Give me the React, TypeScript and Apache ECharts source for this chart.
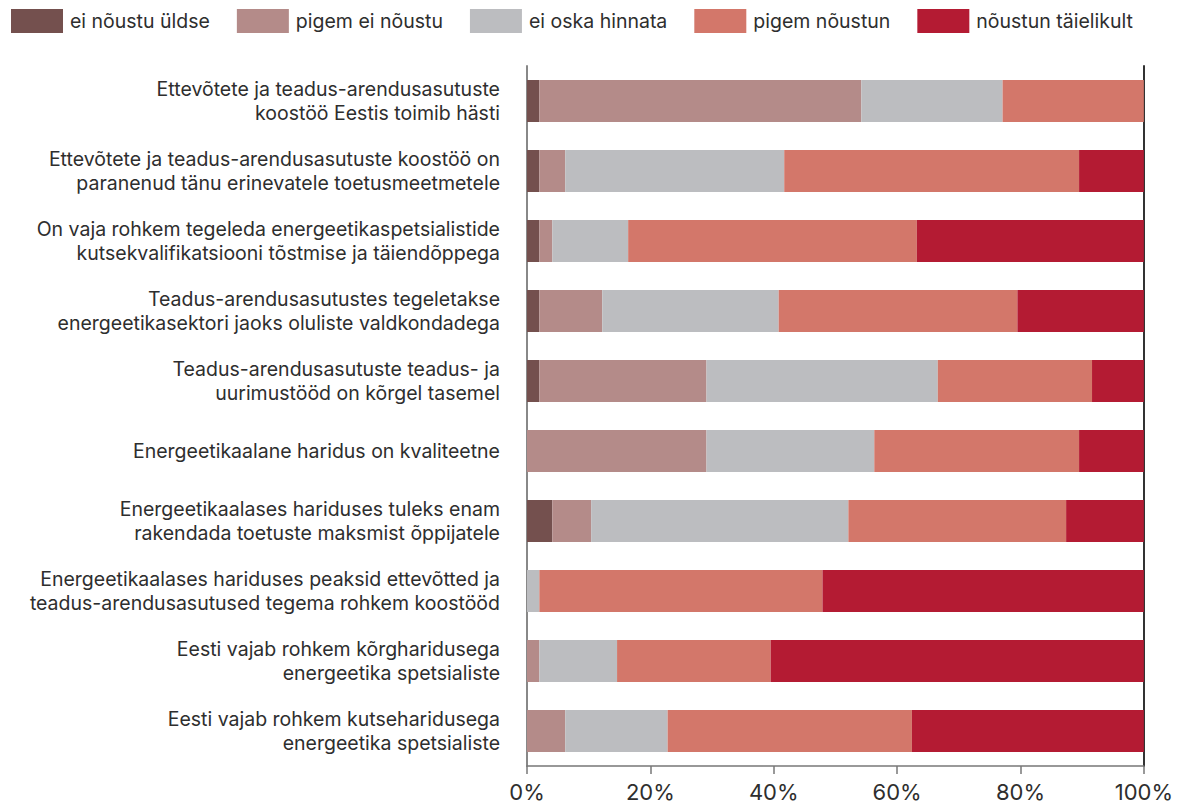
import React, { useEffect, useRef } from "react";
import * as echarts from "echarts";

const categories = [
  "Ettevõtete ja teadus-arendusasutuste\nkoostöö Eestis toimib hästi",
  "Ettevõtete ja teadus-arendusasutuste koostöö on\nparanenud tänu erinevatele toetusmeetmetele",
  "On vaja rohkem tegeleda energeetikaspetsialistide\nkutsekvalifikatsiooni tõstmise ja täiendõppega",
  "Teadus-arendusasutustes tegeletakse\nenergeetikasektori jaoks oluliste valdkondadega",
  "Teadus-arendusasutuste teadus- ja\nuurimustööd on kõrgel tasemel",
  "Energeetikaalane haridus on kvaliteetne",
  "Energeetikaalases hariduses tuleks enam\nrakendada toetuste maksmist õppijatele",
  "Energeetikaalases hariduses peaksid ettevõtted ja\nteadus-arendusasutused tegema rohkem koostööd",
  "Eesti vajab rohkem kõrgharidusega\nenergeetika spetsialiste",
  "Eesti vajab rohkem kutseharidusega\nenergeetika spetsialiste",
];

const seriesNames = [
  "ei nõustu üldse",
  "pigem ei nõustu",
  "ei oska hinnata",
  "pigem nõustun",
  "nõustun täielikult",
];

const eiNoustuYldse = [2.0, 2.0, 2.0, 2.0, 2.0, 0, 4.1, 0, 0, 0];
const pigemEiNoustu = [52.2, 4.2, 2.1, 10.2, 27.1, 29.1, 6.3, 0, 2.0, 6.2];
const eiOskaHinnata = [22.9, 35.5, 12.3, 28.6, 37.5, 27.2, 41.7, 2.0, 12.6, 16.6];
const pigemNoustun = [22.9, 47.8, 46.8, 38.7, 25.0, 33.2, 35.3, 45.9, 24.9, 39.6];
const noustunTaielikult = [0, 10.5, 36.8, 20.5, 8.4, 10.5, 12.6, 52.1, 60.5, 37.6];

const seriesValues = [eiNoustuYldse, pigemEiNoustu, eiOskaHinnata, pigemNoustun, noustunTaielikult];
const colors = ["#74504e", "#b48b89", "#bcbdc0", "#d3776a", "#b41b33"];

const FONT = "Inter";
const TEXT = "#2e2e2e";

export default function App() {
  const ref = useRef<HTMLDivElement>(null);
  useEffect(() => {
    if (!ref.current) return;
    const chart = echarts.init(ref.current, null, { renderer: "svg" });
    chart.setOption({
      animation: false,
      textStyle: { fontFamily: FONT },
      legend: {
        left: 3,
        top: 1,
        padding: 0,
        itemWidth: 52,
        itemHeight: 24,
        itemGap: 27,
        icon: "rect",
        textStyle: { fontSize: 19.5, color: TEXT, fontFamily: FONT, padding: [0, 0, 0, 2] },
        data: seriesNames,
      },
      grid: { left: 519, right: 29, top: 58, bottom: 41 },
      xAxis: {
        type: "value",
        min: 0,
        max: 100,
        interval: 20,
        axisLabel: {
          formatter: "{value}%",
          fontSize: 22,
          lineHeight: 22,
          color: TEXT,
          margin: 15,
          fontFamily: FONT,
        },
        axisLine: { show: true, lineStyle: { color: "#777", width: 1.5 } },
        axisTick: { show: true, length: 8, lineStyle: { color: "#777", width: 1.5 } },
        splitLine: { show: false },
      },
      yAxis: [
        {
          type: "category",
          inverse: true,
          data: categories,
          axisLine: { show: true, lineStyle: { color: "#888", width: 2 } },
          axisTick: { show: false },
          axisLabel: {
            fontSize: 19.5,
            color: TEXT,
            lineHeight: 24,
            margin: 27,
            align: "right",
            fontFamily: FONT,
          },
        },
        {
          type: "category",
          inverse: true,
          position: "right",
          data: categories,
          axisLine: { show: true, lineStyle: { color: "#333", width: 2 } },
          axisTick: { show: false },
          axisLabel: { show: false },
        },
      ],
      series: seriesNames.map((name, i) => ({
        name,
        type: "bar",
        stack: "total",
        barWidth: 42,
        data: seriesValues[i],
        itemStyle: { color: colors[i] },
      })),
    });
    return () => chart.dispose();
  }, []);
  return <div ref={ref} style={{ width: 1168, height: 799 }} />;
}
